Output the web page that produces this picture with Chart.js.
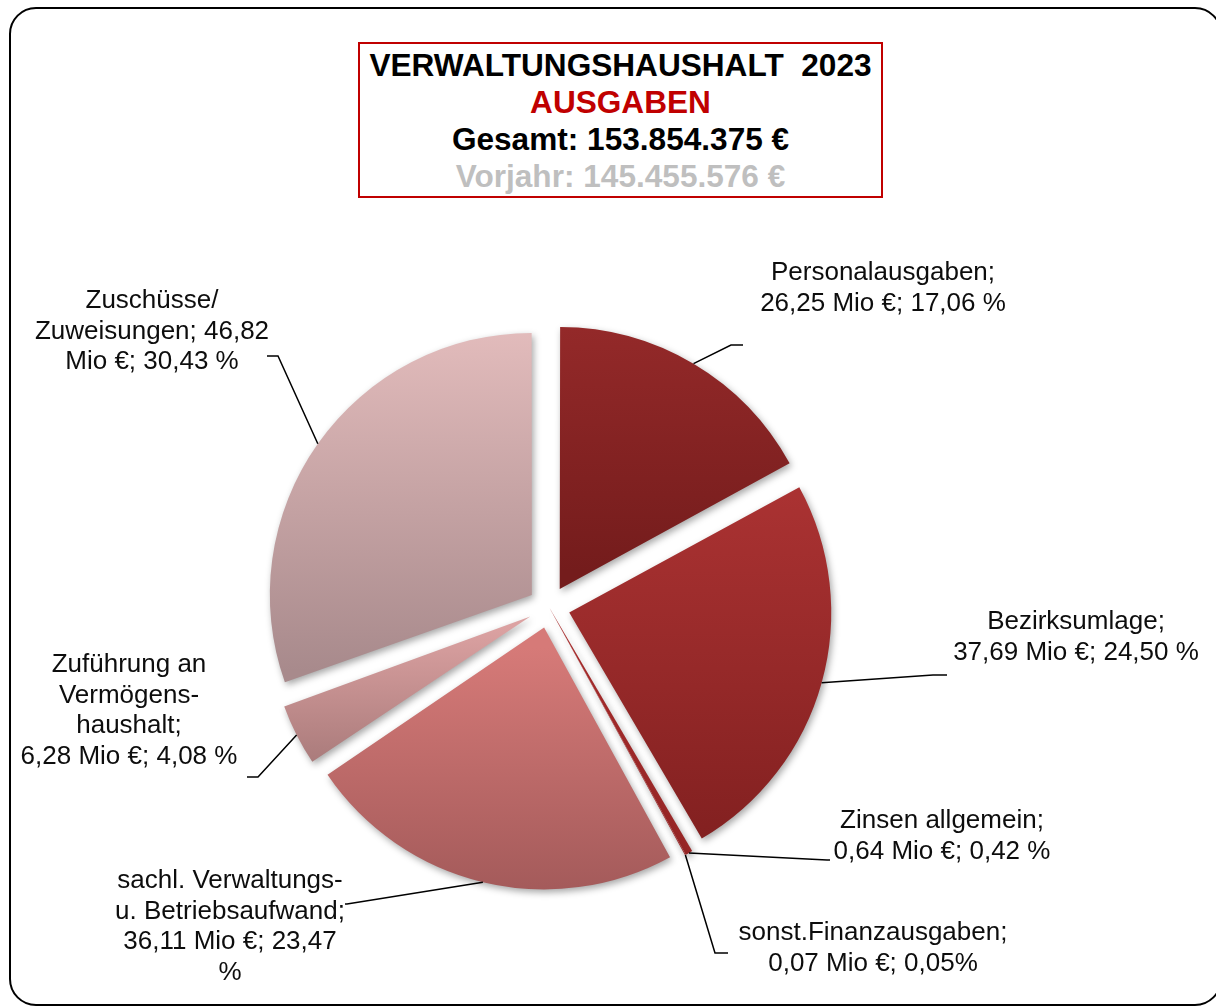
<!DOCTYPE html>
<html>
<head>
<meta charset="utf-8">
<script src="https://cdn.jsdelivr.net/npm/chart.js@4.4.0/dist/chart.umd.min.js"></script>
<style>
html, body { margin:0; padding:0; background:#fff; }
body { width:1216px; height:1006px; position:relative; overflow:hidden; font-family:"Liberation Sans", Arial, sans-serif; }
#frame { position:absolute; left:9px; top:7px; width:1213px; height:999px; box-sizing:border-box; border:2px solid #000; border-radius:27px; }
#chart { position:absolute; left:0; top:0; }
#title { position:absolute; left:358px; top:42px; width:525px; height:156px; box-sizing:border-box;
         border:2px solid #c00000; padding-top:3px; text-align:center; font-weight:bold; font-size:31.6px; line-height:37px; background:#fff; }
#title .red { color:#c00000; }
#title .grey { color:#bfbfbf; }
</style>
</head>
<body>
<div id="frame"></div>
<canvas id="chart" width="1216" height="1006"></canvas>
<div id="title">
  <div>VERWALTUNGSHAUSHALT&nbsp; 2023</div>
  <div class="red">AUSGABEN</div>
  <div>Gesamt: 153.854.375 €</div>
  <div class="grey">Vorjahr: 145.455.576 €</div>
</div>
<script>
// --- data (Mio €) ---
const categories = ['Personalausgaben', 'Bezirksumlage', 'Zinsen allgemein', 'sonst.Finanzausgaben',
  'sachl. Verwaltungs- u. Betriebsaufwand', 'Zuführung an Vermögenshaushalt', 'Zuschüsse/Zuweisungen'];
const valuesMio = [26.25, 37.69, 0.64, 0.07, 36.11, 6.28, 46.82];
const labelLines = [
  ['Personalausgaben;', '26,25 Mio €; 17,06 %'],
  ['Bezirksumlage;', '37,69 Mio €; 24,50 %'],
  ['Zinsen allgemein;', '0,64 Mio €; 0,42 %'],
  ['sonst.Finanzausgaben;', '0,07 Mio €; 0,05%'],
  ['sachl. Verwaltungs-', 'u. Betriebsaufwand;', '36,11 Mio €; 23,47', '%'],
  ['Zuführung an', 'Vermögens-', 'haushalt;', '6,28 Mio €; 4,08 %'],
  ['Zuschüsse/', 'Zuweisungen; 46,82', 'Mio €; 30,43 %']
];

// --- style ---
const topColors    = ['#962a2a', '#aa3232', '#a82c2c', '#a82c2c', '#d67a78', '#dca2a2', '#e4bdbd'];
const bottomColors = ['#741c1c', '#822020', '#982626', '#982626', '#a05858', '#a67878', '#a88a8c'];
const RADIUS = 262;
const EXPLODE = 21;
// chart.js 4.5 eats slivers that are pulled out, so the two tiny ones stay at the centre
const explode = [EXPLODE, EXPLODE, 0, 0, EXPLODE, EXPLODE, EXPLODE];

// label placement: centre x, first line y, leader knee and end
const labelX    = [883, 1076, 942, 873, 230, 129, 152];
const labelY    = [273, 622, 821, 933, 881, 665, 301];
const leaderKnee = [[731, 345], [933, 675], [827, 860], [715, 953], [347, 904], [258, 777], [278, 356]];
const leaderEnd  = [[743, 345], [947, 675], [830, 860], [728, 953], [345, 904], [247, 777], [267, 356]];
const LINE_H = 30.5;

function sliceGradient(c){
  const chart = c.chart, area = chart.chartArea, i = c.dataIndex;
  if(i === undefined || !area) return topColors[0];
  const total = valuesMio.reduce((a,b)=>a+b, 0);
  const before = valuesMio.slice(0, i).reduce((a,b)=>a+b, 0);
  const a0 = -Math.PI/2 + before/total*2*Math.PI;
  const a1 = a0 + valuesMio[i]/total*2*Math.PI;
  const mid = (a0 + a1)/2;
  const r = RADIUS + EXPLODE - explode[i];
  const cy = (area.top + area.bottom)/2 + Math.sin(mid)*explode[i];
  const ys = [cy, cy + r*Math.sin(a0), cy + r*Math.sin(a1)];
  if(a0 < Math.PI/2 && a1 > Math.PI/2) ys.push(cy + r);
  const g = chart.ctx.createLinearGradient(0, Math.min(...ys), 0, Math.max(...ys));
  g.addColorStop(0, topColors[i]);
  g.addColorStop(1, bottomColors[i]);
  return g;
}

// Chart.js grows small exploded slices; keep all outer edges like the original
const equalRadius = {
  id: 'equalRadius',
  afterDatasetUpdate(chart, args){
    args.meta.data.forEach((arc, i)=>{
      const fix = 1 - Math.sin(Math.min(Math.PI, arc.circumference || 0));
      arc.outerRadius = explode[i] ? RADIUS - explode[i]*fix : RADIUS + EXPLODE;
    });
  }
};

const sliceShadow = {
  id: 'sliceShadow',
  beforeDatasetsDraw(chart){
    const ctx = chart.ctx;
    ctx.save();
    ctx.shadowColor = 'rgba(0,0,0,0.35)';
    ctx.shadowBlur = 7;
    ctx.shadowOffsetX = 2;
    ctx.shadowOffsetY = 3;
  },
  afterDatasetsDraw(chart){
    chart.ctx.restore();
  }
};

const outsideLabels = {
  id: 'outsideLabels',
  afterDraw(chart){
    const ctx = chart.ctx;
    const arcs = chart.getDatasetMeta(0).data;
    ctx.save();
    ctx.strokeStyle = '#000';
    ctx.lineWidth = 1.5;
    arcs.forEach((arc, i)=>{
      const mid = (arc.startAngle + arc.endAngle)/2;
      const sx = arc.x + Math.cos(mid)*(EXPLODE + RADIUS);
      const sy = arc.y + Math.sin(mid)*(EXPLODE + RADIUS);
      ctx.beginPath();
      ctx.moveTo(sx, sy);
      ctx.lineTo(leaderKnee[i][0], leaderKnee[i][1]);
      ctx.lineTo(leaderEnd[i][0], leaderEnd[i][1]);
      ctx.stroke();
    });
    ctx.fillStyle = '#0d0d0d';
    ctx.font = '26px "Liberation Sans", Arial, sans-serif';
    ctx.textAlign = 'center';
    ctx.textBaseline = 'middle';
    labelLines.forEach((lines, i)=>{
      lines.forEach((t, k)=> ctx.fillText(t, labelX[i], labelY[i] + k*LINE_H));
    });
    ctx.restore();
  }
};

new Chart(document.getElementById('chart'), {
  type: 'pie',
  data: {
    labels: categories,
    datasets: [{
      data: valuesMio,
      backgroundColor: sliceGradient,
      borderWidth: 0,
      offset: explode.map(e=>e*4),
      hoverOffset: explode.map(e=>e*4),
      radius: RADIUS
    }]
  },
  options: {
    responsive: false,
    animation: false,
    events: [],
    layout: { padding: { left: 0, right: 118, top: 208, bottom: 0 } },
    plugins: { legend: { display: false }, tooltip: { enabled: false } }
  },
  plugins: [equalRadius, sliceShadow, outsideLabels]
});
</script>
</body>
</html>
